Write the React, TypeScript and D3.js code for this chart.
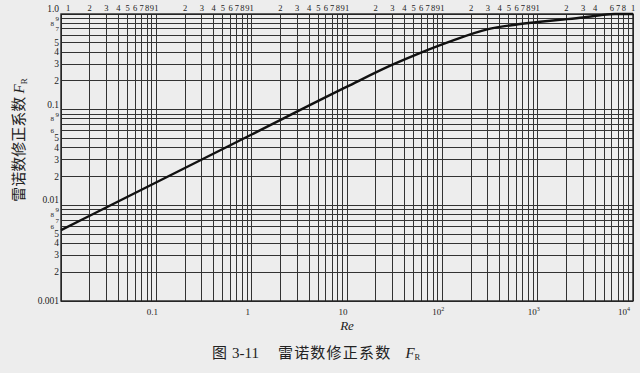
import React from "react";
import * as d3 from "d3";

// Reynolds number correction factor F_R versus Re (log-log chart)
const reValues = [0.01, 1, 10, 30, 58, 130, 295, 655, 1060, 1720, 3000, 4500, 6500, 10000];
const frValues = [0.0055, 0.055, 0.174, 0.295, 0.39, 0.53, 0.69, 0.785, 0.83, 0.87, 0.92, 0.97, 1.0, 1.0];

const xDecades = [0.01, 0.1, 1, 10, 100, 1000];
const yDecades = [0.001, 0.01, 0.1];
const minorSteps = [1, 2, 3, 4, 5, 6, 7, 8, 9];

const bottomTickLabels = [
  { v: 0.1, base: "0.1", sup: "" },
  { v: 1, base: "1", sup: "" },
  { v: 10, base: "10", sup: "" },
  { v: 100, base: "10", sup: "2" },
  { v: 1000, base: "10", sup: "3" },
  { v: 10000, base: "10", sup: "4" },
];

// digits printed along the top edge for each decade (last decade prints fewer)
const topDigitsPerDecade = [
  [2, 3, 4, 5, 6, 7, 8, 9, 10],
  [2, 3, 4, 5, 6, 7, 8, 9, 10],
  [2, 3, 4, 5, 6, 7, 8, 9, 10],
  [2, 3, 4, 5, 6, 7, 8, 9, 10],
  [2, 3, 4, 5, 6, 7, 8, 9, 10],
  [2, 3, 4, 6, 7, 8, 10],
];

// digits printed along the left edge for each decade (top decade first)
const leftDigitsPerDecade = [
  { base: 0.1, digits: [9, 8, 7, 5, 4, 3, 2] },
  { base: 0.01, digits: [9, 8, 6, 5, 4, 3, 2] },
  { base: 0.001, digits: [9, 8, 7, 6, 5, 4, 3, 2] },
];
const leftDecadeLabels = [
  { v: 1, text: "1.0" },
  { v: 0.1, text: "0.1" },
  { v: 0.01, text: "0.01" },
  { v: 0.001, text: "0.001" },
];

const W = 640;
const H = 373;
const left = 61;
const right = 633;
const top = 14;
const bottom = 301;

const serif = "'Liberation Serif', 'DejaVu Serif', serif";
const cjk = "'Noto Sans CJK SC', 'Liberation Serif', serif";

export default function App() {
  const x = d3.scaleLog().domain([0.01, 10000]).range([left, right]);
  const y = d3.scaleLog().domain([0.001, 1]).range([bottom, top]);

  const xGrid: number[] = [];
  xDecades.forEach((d) => minorSteps.forEach((m) => xGrid.push(d * m)));
  xGrid.push(10000);
  const yGrid: number[] = [];
  yDecades.forEach((d) => minorSteps.forEach((m) => yGrid.push(d * m)));
  yGrid.push(1);

  const pts: [number, number][] = reValues.map((r, i) => [r, frValues[i]]);
  const line = d3
    .line<[number, number]>()
    .x((d) => x(d[0]))
    .y((d) => y(d[1]))
    .curve(d3.curveMonotoneX);

  const gridColor = "#333";

  return (
    <svg
      width={W}
      height={H}
      style={{ position: "absolute", left: 0, top: 0 }}
      xmlns="http://www.w3.org/2000/svg"
    >
      <rect x={0} y={0} width={W} height={H} fill="#ededed" />

      {/* grid */}
      <g shapeRendering="crispEdges" stroke={gridColor} strokeWidth={1}>
        {xGrid.map((v, i) => (
          <line key={"vx" + i} x1={x(v)} x2={x(v)} y1={top} y2={bottom} />
        ))}
        {yGrid.map((v, i) => (
          <line key={"hy" + i} x1={left} x2={right} y1={y(v)} y2={y(v)} />
        ))}
      </g>
      <rect
        x={left}
        y={top}
        width={right - left}
        height={bottom - top}
        fill="none"
        stroke="#222"
        strokeWidth={1.4}
      />

      {/* curve */}
      <path d={line(pts) || ""} fill="none" stroke="#111" strokeWidth={2.4} />

      {/* top digits */}
      <g fontFamily={serif} fontSize={8.5} fill="#222" textAnchor="middle">
        <text x={x(0.01) + 7} y={11}>1</text>
        {topDigitsPerDecade.map((digits, di) =>
          digits.map((m) => (
            <text key={"t" + di + "-" + m} x={x(xDecades[di] * m)} y={11}>
              {m === 10 ? "1" : String(m)}
            </text>
          ))
        )}
      </g>

      {/* left digits */}
      <g fontFamily={serif} fill="#222" textAnchor="end">
        {leftDecadeLabels.map((d, i) => (
          <text
            key={"ld" + d.v}
            x={left - 2}
            y={y(d.v) + (i === leftDecadeLabels.length - 1 ? 3 : -2)}
            fontSize={9.5}
          >
            {d.text}
          </text>
        ))}
        {leftDigitsPerDecade.map((dec) =>
          dec.digits.map((m) => {
            const dense = m >= 6;
            // dense labels alternate between two columns so they stay legible
            const shift = dense && (m === 8 || m === 6) ? 5 : 0;
            return (
              <text
                key={"lm" + dec.base + "-" + m}
                x={left - 2 - shift}
                y={y(dec.base * m) + (dense ? 2.5 : 3)}
                fontSize={dense ? 7 : 9.5}
              >
                {m}
              </text>
            );
          })
        )}
      </g>

      {/* bottom labels */}
      <g fontFamily={serif} fontSize={9} fill="#222" textAnchor="middle">
        {bottomTickLabels.map((t, i) => (
          <text
            key={"b" + i}
            x={x(t.v) - (i === bottomTickLabels.length - 1 ? 9 : 4)}
            y={bottom + 14}
          >
            {t.base}
            {t.sup ? (
              <tspan dy={-4} fontSize={6}>
                {t.sup}
              </tspan>
            ) : null}
          </text>
        ))}
      </g>

      {/* axis titles */}
      <text
        x={x(10)}
        y={bottom + 29}
        fontFamily={serif}
        fontStyle="italic"
        fontSize={13}
        textAnchor="middle"
        fill="#222"
      >
        Re
      </text>
      <text
        transform={`translate(24, 140) rotate(-90)`}
        textAnchor="middle"
        fill="#222"
      >
        <tspan fontFamily={cjk} fontSize={15}>
          雷诺数修正系数{" "}
        </tspan>
        <tspan fontFamily={serif} fontStyle="italic" fontSize={15}>
          F
        </tspan>
        <tspan fontFamily={serif} fontSize={9} dy={3}>
          R
        </tspan>
      </text>

      {/* caption */}
      <text x={212} y={358} fill="#222">
        <tspan fontFamily={cjk} fontSize={15}>
          图
        </tspan>
        <tspan fontFamily={serif} fontSize={15} dx={5}>
          3-11
        </tspan>
        <tspan fontFamily={cjk} fontSize={15} dx={19} letterSpacing={1.2}>
          雷诺数修正系数
        </tspan>
        <tspan fontFamily={serif} fontStyle="italic" fontSize={15} dx={14}>
          F
        </tspan>
        <tspan fontFamily={serif} fontSize={8.5} dy={2}>
          R
        </tspan>
      </text>
    </svg>
  );
}
